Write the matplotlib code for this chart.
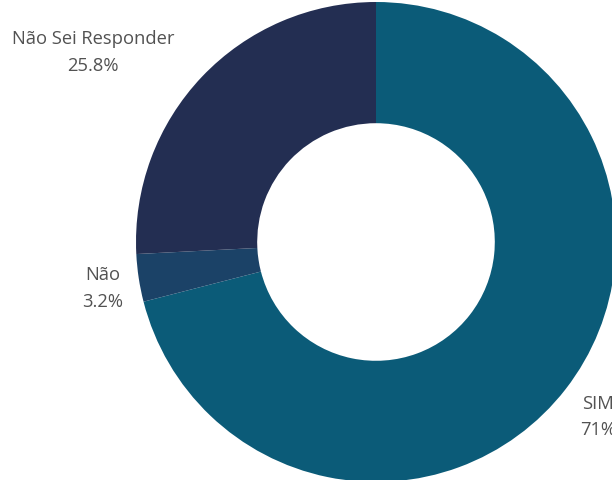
import matplotlib
matplotlib.use("Agg")
import matplotlib.pyplot as plt

# answer shares, drawn clockwise from 12 o'clock
labels = ["SIM", "Não", "Não Sei Responder"]
values = [71.0, 3.2, 25.8]
value_text = ["71%", "3.2%", "25.8%"]

COLORS = ["#0b5b78", "#1b4267", "#232e52"]
TEXT = "#525252"

W, H = 612, 481
fig = plt.figure(figsize=(W / 100, H / 100), dpi=100, facecolor="white")

# donut centre at (376, 243) px from top-left, outer radius 240 px
cx, cy, R = 376, 243, 240
ax = fig.add_axes([(cx - R) / W, (H - cy - R) / H, 2 * R / W, 2 * R / H])

ax.pie(values, colors=COLORS, startangle=90, counterclock=False,
       radius=1.0, wedgeprops=dict(width=0.505, edgecolor="none"))
ax.set_xlim(-1, 1)
ax.set_ylim(-1, 1)
ax.axis("off")

# outside labels (name above percentage)
label_pos = {
    "Não Sei Responder": (-1.179, 0.795),
    "Não": (-1.14, -0.19),
    "SIM": (0.925, -0.725),
}
for name, txt in zip(labels, value_text):
    x, y = label_pos[name]
    ax.text(x, y, f"{name}\n{txt}", ha="center", va="center",
            fontsize=13.2, color=TEXT, family="Open Sans",
            linespacing=1.62, clip_on=False)

fig.savefig("out.png", dpi=100, facecolor="white")
